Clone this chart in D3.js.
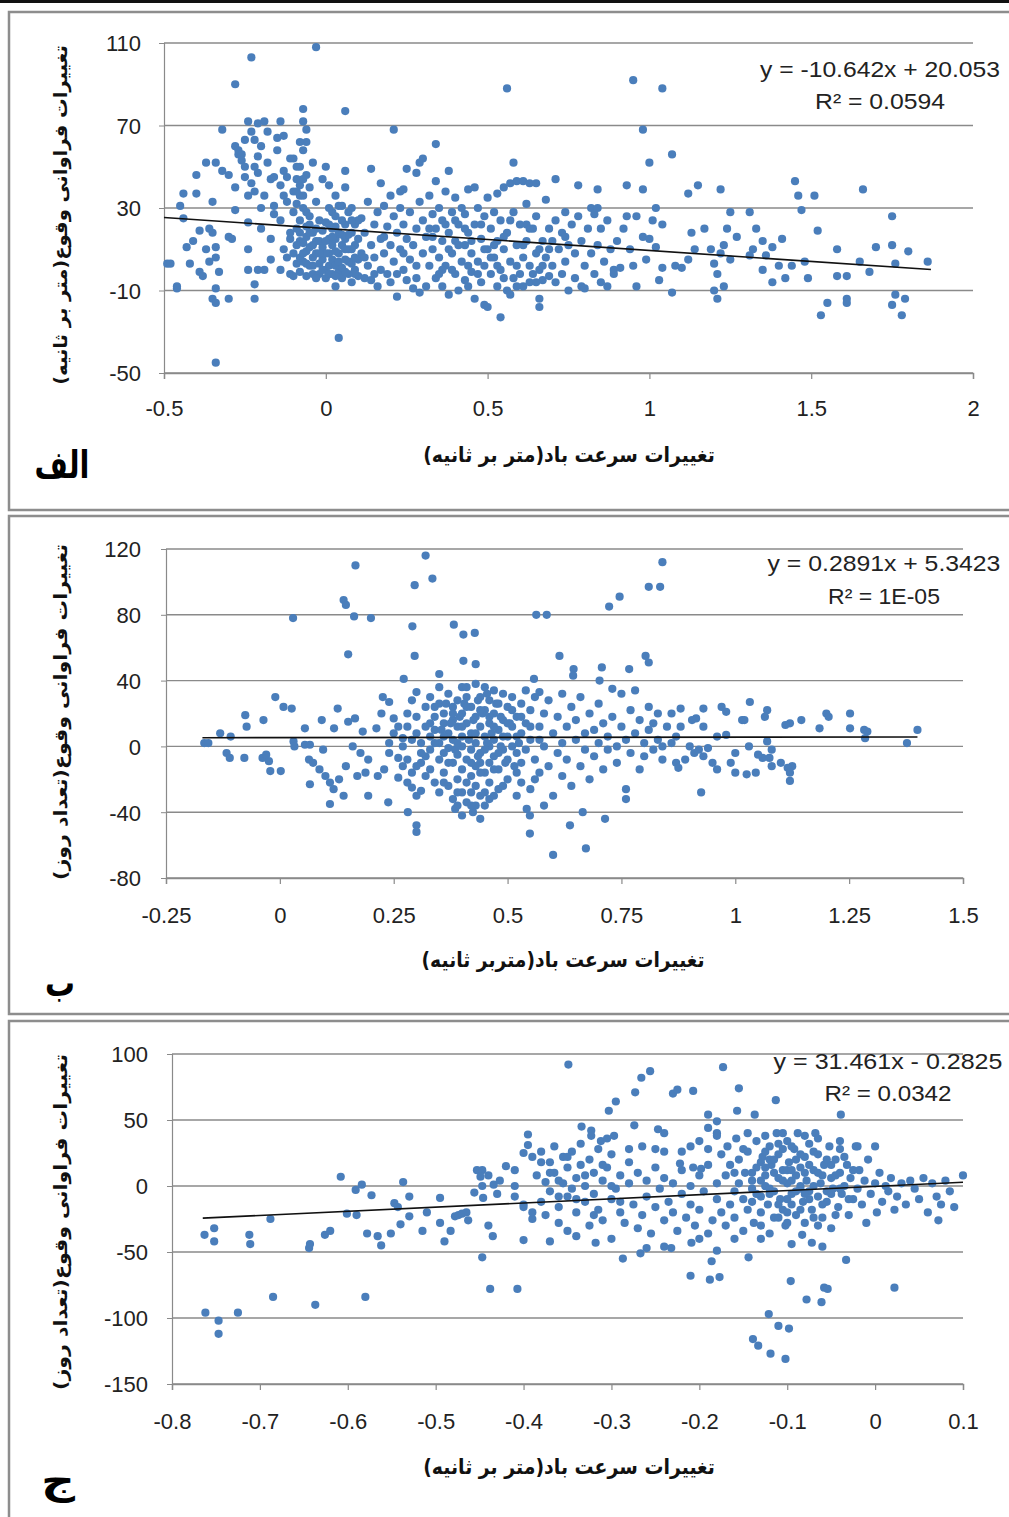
<!DOCTYPE html>
<html>
<head>
<meta charset="utf-8">
<script src="https://cdn.jsdelivr.net/npm/d3@7"></script>
<style>
  body { margin: 0; background: #fff; }
  svg { display: block; }
</style>
</head>
<body>
<div id="vis"></div>
<script>
// ---- data (x = wind speed change, y = frequency change) ----
const pointsA = [
  [-0.49,3],[-0.48,3],[-0.46,-8],[-0.46,-9],[-0.45,31],[-0.44,37],[-0.44,25],[-0.43,11],[-0.42,3],[-0.41,14],[-0.40,46],[-0.40,37],[-0.39,19],[-0.39,-1],[-0.38,-3],[-0.37,52],[-0.37,10],[-0.36,20],[-0.35,33],[-0.35,18],[-0.35,-14],[-0.34,52],[-0.34,11],[-0.34,6],[-0.34,-16],[-0.34,-9],[-0.34,-45],[-0.33,-1],[-0.36,4],
  [-0.32,48],[-0.32,68],[-0.30,-14],[-0.30,16],[-0.30,46],[-0.29,15],[-0.28,90],[-0.28,40],[-0.28,29],[-0.28,60],[-0.27,58],[-0.27,56],[-0.26,56],[-0.26,53],[-0.25,63],[-0.25,45],[-0.25,50],[-0.24,72],[-0.24,36],[-0.24,23],[-0.24,10],[-0.24,0],[-0.23,103],[-0.23,67],[-0.23,42],[-0.22,63],[-0.22,50],[-0.22,38],[-0.22,-14],[-0.22,-7],[-0.21,71],[-0.21,55],[-0.21,0],[-0.20,60],[-0.20,20],[-0.20,30],[-0.21,47],
  [-0.19,72],[-0.19,36],[-0.19,0],[-0.18,67],[-0.18,52],[-0.17,5],[-0.17,15],[-0.17,44],[-0.16,45],[-0.16,31],[-0.16,27],[-0.15,64],[-0.15,58],[-0.14,72],[-0.14,41],[-0.14,24],[-0.14,0],[-0.13,65],[-0.13,10],[-0.13,36],[-0.13,48],[-0.12,45],[-0.12,33],[-0.12,6],[-0.11,-2],[-0.11,15],[-0.11,18],[-0.11,54],[-0.10,54],[-0.10,38],[-0.10,28],[-0.10,8],[-0.10,-3],
  [-0.09,50],[-0.09,44],[-0.09,32],[-0.09,20],[-0.09,3],[-0.08,50],[-0.08,41],[-0.08,36],[-0.08,24],[-0.08,14],[-0.08,-1],[-0.07,72],[-0.07,78],[-0.07,44],[-0.07,36],[-0.07,30],[-0.07,13],[-0.07,4],[-0.06,68],[-0.06,62],[-0.06,28],[-0.06,21],[-0.06,16],[-0.06,9],[-0.06,-3],[-0.05,11],[-0.05,2],[-0.05,26],[-0.05,40],[-0.04,6],[-0.04,2],[-0.04,52],[-0.04,18],[-0.04,-2],[-0.03,108],[-0.03,33],[-0.03,14],[-0.03,8],[-0.02,-2],[-0.02,24],[-0.02,3],
  [-0.01,44],[-0.01,19],[-0.01,11],[-0.01,5],[0.00,50],[0.00,23],[0.00,0],[0.00,-4],[0.01,41],[0.01,15],[0.01,8],[0.01,2],[0.02,28],[0.02,12],[0.02,-2],[0.02,5],[0.03,36],[0.03,21],[0.03,2],[0.03,-8],[0.03,15],[0.04,31],[0.04,18],[0.04,8],[0.04,-1],[0.04,-33],[0.05,31],[0.05,12],[0.05,1],[0.05,-4],[0.06,48],[0.06,40],[0.06,77],[0.06,22],[0.06,15],[0.06,5],[0.07,28],[0.07,-2],[0.07,10],[0.08,18],[0.08,3],[0.08,-6],[0.08,30],[0.09,12],[0.09,0],[0.09,22],[0.10,5],[0.10,-3],[0.10,15],
  [0.11,8],[0.11,25],[0.12,-4],[0.12,18],[0.13,33],[0.13,2],[0.14,49],[0.14,12],[0.14,-5],[0.15,22],[0.15,6],[0.16,-8],[0.16,28],[0.17,42],[0.17,15],[0.17,0],[0.18,31],[0.18,8],[0.19,-2],[0.19,21],[0.20,36],[0.20,12],[0.20,-6],[0.21,68],[0.21,26],[0.21,4],[0.22,-13],[0.22,18],[0.22,-2],[0.23,38],[0.23,30],[0.23,10],[0.24,39],[0.24,0],[0.24,22],[0.25,49],[0.25,15],[0.25,-5],[0.26,5],[0.26,28],[0.27,-9],[0.27,12],[0.28,47],[0.28,20],[0.28,2],[0.29,52],[0.29,-11],[0.29,33],[0.30,54],[0.30,8],[0.30,24],
  [0.31,-8],[0.31,16],[0.32,36],[0.32,2],[0.33,27],[0.33,10],[0.34,61],[0.34,43],[0.34,-4],[0.34,20],[0.35,30],[0.35,6],[0.36,14],[0.36,-8],[0.36,24],[0.37,38],[0.37,2],[0.38,48],[0.38,18],[0.38,-12],[0.39,28],[0.39,8],[0.40,35],[0.40,-2],[0.40,14],[0.41,22],[0.41,-10],[0.42,30],[0.42,4],[0.43,12],[0.43,-5],[0.43,27],[0.44,18],[0.44,39],[0.45,-1],[0.45,8],[0.46,40],[0.46,22],[0.46,-14],[0.47,30],[0.47,4],[0.48,-6],[0.48,15],[0.49,-17],[0.49,26],[0.49,2],[0.50,-18],[0.50,10],[0.50,35],
  [0.51,20],[0.51,-2],[0.52,28],[0.52,6],[0.53,37],[0.53,-8],[0.53,14],[0.54,-23],[0.54,24],[0.54,0],[0.55,40],[0.55,10],[0.56,88],[0.56,-10],[0.56,18],[0.57,42],[0.57,4],[0.57,-12],[0.58,52],[0.58,28],[0.58,-4],[0.59,43],[0.59,12],[0.60,22],[0.60,-2],[0.61,43],[0.61,6],[0.61,-8],[0.62,32],[0.62,14],[0.63,2],[0.63,-6],[0.63,42],[0.64,20],[0.64,-2],[0.65,42],[0.65,8],[0.65,26],[0.66,-14],[0.66,-18],[0.66,0],[0.67,14],[0.67,-5],[0.68,34],[0.68,6],[0.69,-3],[0.69,20],[0.70,2],
  [0.71,44],[0.71,24],[0.71,-6],[0.72,10],[0.73,18],[0.73,-2],[0.74,28],[0.74,4],[0.75,-10],[0.75,12],[0.76,22],[0.77,-4],[0.77,8],[0.78,41],[0.78,26],[0.79,14],[0.79,-8],[0.80,-9],[0.80,2],[0.81,20],[0.82,30],[0.82,8],[0.83,27],[0.83,-2],[0.84,39],[0.84,30],[0.84,12],[0.85,-6],[0.85,20],[0.86,4],[0.87,24],[0.87,-8],[0.88,10],[0.89,0],[0.89,-2],[0.90,14],[0.91,1],[0.92,20],[0.93,41],[0.93,26],[0.94,10],[0.95,92],[0.95,2],[0.96,-8],[0.96,26],
  [0.98,68],[0.98,39],[0.98,16],[0.99,5],[1.00,52],[1.00,15],[1.01,24],[1.02,30],[1.02,11],[1.03,-5],[1.04,88],[1.04,22],[1.04,1],[1.07,56],[1.07,-11],[1.08,2],[1.10,1],[1.12,37],[1.12,5],[1.13,18],[1.14,10],[1.15,41],[1.17,20],[1.19,10],[1.20,3],[1.20,-10],[1.21,-14],[1.21,-2],[1.22,39],[1.22,8],[1.23,12],[1.23,-8],[1.24,20],[1.25,28],[1.25,5],[1.27,16],[1.31,28],[1.31,7],[1.32,10],[1.33,20],[1.35,14],[1.35,0],[1.36,7],[1.38,11],[1.38,-6],[1.40,2],[1.41,15],[1.42,-4],[1.44,2],[1.45,43],[1.46,36],[1.47,29],[1.48,4],[1.49,-4],[1.51,36],[1.52,19],[1.53,-22],[1.55,-16],[1.58,10],[1.58,-3],[1.61,-3],[1.61,-14],[1.61,-16],[1.65,4],[1.66,39],[1.68,-1],[1.70,11],[1.75,26],[1.75,12],[1.75,-17],[1.76,-12],[1.76,3],[1.78,-22],[1.79,-14],[1.80,9],[1.86,4],
  [-0.09,12],[-0.08,6],[-0.05,18],[-0.03,-4],[-0.02,14],[0.00,8],[0.01,30],[0.02,20],[0.03,9],[0.05,24],[0.06,-1],[0.07,17],[0.08,10],[0.09,-2],[0.10,24],[0.12,6],[0.15,-2],[0.18,16],[0.24,8],[0.32,20],[0.36,0],[0.40,24],[0.44,2],[0.52,12],[0.55,-4],[0.59,2],[0.62,22],[0.66,10],[0.70,14],[0.74,16],[0.44,-8],[0.48,22],[0.38,10],[0.28,-4],
  [-0.08,18],[-0.07,8],[-0.06,3],[-0.05,22],[-0.04,12],[-0.03,20],[-0.02,8],[-0.01,0],[0.00,14],[0.01,-2],[0.02,16],[0.03,26],[0.04,4],[0.05,17],[0.06,10],[0.07,4],[0.08,24],[0.09,6],[0.03,-3],[0.01,22],[0.33,16],[0.35,-2],[0.37,22],[0.39,0],[0.41,12],[0.43,20],[0.45,14],[0.47,-2],[0.49,10],[0.51,6],[0.53,2],[0.55,16],[0.57,24],[0.59,-8],[0.61,12],[0.63,20],[0.65,-6],[0.67,2],[0.69,10],[-0.07,58],[-0.08,62],[-0.09,38],[-0.06,46]
];

const pointsB = [
  [0.32,116],[0.166,110],[0.84,112],[0.335,102],[0.296,98],[0.81,97],[0.835,97],[0.746,91],[0.723,85],[0.14,89],[0.145,86],[0.029,78],[0.163,79],[0.20,78],[0.563,80],[0.586,80],[0.291,73],[0.382,74],[0.403,68],[0.428,69],[0.15,56],[0.296,55],[0.614,55],[0.803,55],[0.81,51],[0.403,52],[0.43,50],[0.707,48],[0.645,47],[0.644,43],[0.767,47],[0.35,44],[0.272,41],[0.558,41],[0.702,40],[-0.01,30],[0.008,24],[0.026,23],
  [0.60,-66],[0.672,-62],[0.549,-53],[0.30,-48],[0.30,-52],[0.637,-48],[0.714,-44],[0.281,-40],[0.549,-42],[0.542,-38],[0.665,-40],[0.11,-35],[0.066,-23],[0.424,-40],[0.385,-38],[0.238,-34],[0.925,-28],[1.12,-21],[0.76,-32],
  [1.40,10],[1.377,2],[1.283,10],[1.285,5],[1.29,9],[1.252,20],[1.252,11],[1.20,20],[1.205,18],[1.185,11],[1.145,16],[1.12,14],[1.125,-12],[1.11,13],[1.07,22],[1.065,18],[1.032,27],[1.015,16],[1.02,16],[0.97,24],[0.98,21],[0.93,23],[0.914,17],[0.905,16],[0.88,23],[0.88,12],[0.93,12],[0.98,7],[0.96,6],[1.03,0],[1.07,3],[1.06,-7],[1.075,-7],[1.08,-12],[1.10,-10],[1.115,-13],[1.12,-16],[1.045,-16],[1.025,-17],[1.00,-16],[0.99,-10],[0.96,-14],[0.95,-10],[0.93,-6],[0.91,-4],[0.89,-8],[0.87,-10],[0.875,-13],[0.90,0],[0.94,-1],[0.92,-2],[1.00,-4],[1.05,-5],[1.08,-2],
  [-0.166,2],[-0.157,2],[-0.131,8],[-0.108,6],[-0.117,-4],[-0.11,-7],[-0.078,-7],[-0.076,19],[-0.073,12],[-0.036,16],[-0.038,-7],[-0.024,-9],[-0.03,-5],[-0.021,-15],[0.002,-15],[0.03,3],[0.032,0],[0.055,11],[0.055,1],[0.066,1],[0.064,-8],[0.073,-10],[0.092,16],[0.095,-2],[0.119,11],[0.127,23],[0.087,-14],[0.10,-18],[0.11,-22],[0.118,-26],[0.14,-30],[0.13,-20],[0.145,-12],[0.15,15],[0.165,17],[0.182,9],[0.16,0],[0.177,-4],[0.194,-8],[0.188,-16],[0.17,-18],[0.194,-30],[0.215,-18],[0.229,-14],[0.212,11],[0.223,20],[0.226,30],
  [0.24,27],[0.25,17],[0.25,8],[0.24,2],[0.24,-4],[0.26,-7],[0.27,-12],[0.26,-19],[0.28,-22],[0.29,-25],[0.30,-30],[0.31,-27],[0.29,-16],[0.28,-8],[0.27,0],[0.27,5],[0.28,12],[0.28,20],[0.29,28],[0.30,33],[0.30,18],[0.30,8],[0.31,2],[0.31,-4],[0.31,-10],[0.32,-18],[0.32,24],[0.32,12],[0.33,30],[0.33,6],[0.33,-2],[0.33,-14],[0.34,-22],[0.34,18],[0.34,10],[0.35,36],[0.35,26],[0.35,2],[0.35,-8],[0.35,-28],[0.36,14],[0.36,20],[0.36,-4],[0.36,-16],[0.37,32],[0.37,8],[0.37,-1],[0.37,-24],[0.38,24],[0.38,16],[0.38,4],[0.38,-10],[0.38,-32],[0.39,28],[0.39,12],[0.39,-5],[0.39,-20],[0.40,36],[0.40,20],[0.40,6],[0.40,0],[0.40,-14],[0.40,-28],[0.41,30],[0.41,14],[0.41,-8],[0.41,-34],[0.42,24],[0.42,8],[0.42,-2],[0.42,-18],[0.43,38],[0.43,18],[0.43,2],[0.43,-12],[0.43,-24],[0.44,30],[0.44,12],[0.44,-4],[0.44,-30],[0.45,36],[0.45,22],[0.45,6],[0.45,-16],[0.46,28],[0.46,14],[0.46,0],[0.46,-10],[0.46,-22],[0.47,34],[0.47,20],[0.47,4],[0.47,-6],[0.48,26],[0.48,10],[0.48,-14],[0.48,-26],[0.49,32],[0.49,16],[0.49,-2],[0.50,24],[0.50,6],[0.50,-8],[0.50,-20],[0.51,30],[0.51,12],[0.51,0],[0.52,18],[0.52,-4],[0.52,-16],[0.53,26],[0.53,8],[0.53,-10],[0.54,34],[0.54,14],[0.54,-2],[0.55,22],[0.55,4],[0.55,-26],[0.56,30],[0.56,-8],[0.56,-20],[0.57,12],[0.57,33],[0.58,0],[0.58,20],
  [0.59,-12],[0.59,28],[0.60,8],[0.60,-30],[0.61,18],[0.61,-4],[0.62,32],[0.62,2],[0.62,-18],[0.63,12],[0.63,-8],[0.64,24],[0.64,-24],[0.65,4],[0.65,16],[0.66,-12],[0.66,30],[0.67,8],[0.67,-2],[0.68,20],[0.68,-20],[0.69,10],[0.69,-6],[0.70,26],[0.70,2],[0.71,-14],[0.71,14],[0.72,6],[0.72,-2],[0.73,35],[0.73,18],[0.74,0],[0.74,-10],[0.75,32],[0.75,12],[0.76,4],[0.76,-26],[0.77,22],[0.77,-4],[0.78,8],[0.78,34],[0.79,-14],[0.79,16],[0.80,2],[0.80,-6],[0.81,24],[0.81,10],[0.82,-2],[0.82,14],[0.83,20],[0.83,4],[0.84,-8],[0.84,0],[0.85,12],[0.86,2],[0.86,20],[0.87,6],
  [0.355,10],[0.365,26],[0.375,14],[0.385,-2],[0.395,18],[0.405,26],[0.415,4],[0.425,16],[0.435,-6],[0.435,28],[0.445,20],[0.455,2],[0.455,32],[0.465,8],[0.475,26],[0.485,0],[0.485,18],[0.495,-10],[0.505,14],[0.515,-12],[0.525,2],[0.44,-16],[0.42,-28],[0.45,-36],[0.39,-36],[0.47,-30],[0.36,-22],[0.34,2],[0.32,-6],[0.30,-12],[0.29,4],[0.26,12],[0.41,-22],[0.43,-36],[0.40,-42],[0.44,-44],[0.52,-30],[0.53,-22],[0.57,-16],[0.58,-36],
  [0.38,20],[0.39,2],[0.40,12],[0.41,24],[0.42,-10],[0.43,8],[0.44,22],[0.45,-2],[0.46,18],[0.47,12],[0.48,-4],[0.49,6],[0.50,14],[0.51,22],[0.52,6],[0.37,-10],[0.36,6],[0.34,24],[0.33,14],[0.41,36],[0.44,-10],[0.47,-14],[0.49,-24],[0.53,18],[0.55,12],[0.57,4],[0.42,-36],[0.45,-28],[0.39,-28],[0.46,-32]
];

const pointsC = [
  [-0.349,92],[-0.173,90],[-0.256,87],[-0.266,82],[-0.273,71],[-0.295,64],[-0.303,57],[-0.23,70],[-0.225,73],[-0.207,72],[-0.155,74],[-0.157,57],[-0.137,54],[-0.113,65],[-0.039,54],[-0.19,54],[-0.18,49],[-0.19,44],[-0.18,40],[-0.18,38],[-0.274,46],[-0.247,43],[-0.24,40],[-0.334,45],[-0.323,42],[-0.323,38],[-0.297,38],[-0.312,34],[-0.305,36],[-0.395,39],[-0.25,28],[-0.222,17],[-0.207,14],[-0.198,13],
  [-0.102,-131],[-0.119,-127],[-0.133,-121],[-0.139,-116],[-0.11,-106],[-0.098,-108],[-0.121,-97],[-0.078,-86],[-0.061,-88],[-0.058,-77],[-0.054,-78],[-0.096,-72],[0.022,-77],[-0.033,-56],[-0.21,-68],[-0.188,-71],[-0.177,-69],[-0.186,-57],[-0.18,-49],[-0.144,-54],[-0.072,-43],[-0.083,-37],[-0.26,-47],[-0.267,-51],[-0.287,-55],[-0.438,-78],[-0.407,-78],[-0.447,-54],[-0.435,-38],[-0.44,-30],[-0.40,-41],[-0.318,-43],[-0.232,-47],[-0.209,-43],
  [-0.762,-96],[-0.747,-102],[-0.747,-112],[-0.725,-96],[-0.763,-37],[-0.752,-32],[-0.752,-42],[-0.712,-37],[-0.711,-44],[-0.688,-25],[-0.685,-84],[-0.644,-47],[-0.643,-44],[-0.637,-90],[-0.626,-37],[-0.62,-34],[-0.608,7],[-0.601,-21],[-0.59,-22],[-0.591,-3],[-0.584,1],[-0.573,-7],[-0.58,-84],[-0.578,-36],[-0.566,-38],[-0.562,-45],[-0.551,-36],[-0.547,-13],[-0.543,-16],[-0.537,3],[-0.53,-8],[-0.53,-23],[-0.54,-29],[-0.515,-34],[-0.51,-20],[-0.495,-9],[-0.495,-28],[-0.49,-42],[-0.483,-34],[-0.478,-23],[-0.474,-22],[-0.47,-21],[-0.465,-20],[-0.463,-26],[-0.456,-5],[-0.453,12],[-0.447,12],[-0.449,7],[-0.44,8],[-0.447,0],[-0.446,-9],[-0.434,1],[-0.43,-6],[-0.427,4],[-0.42,15],
  [-0.41,12],[-0.41,0],[-0.41,-8],[-0.40,-14],[-0.40,-16],[-0.40,25],[-0.395,31],[-0.39,-25],[-0.39,-20],[-0.39,22],[-0.385,8],[-0.38,-12],[-0.38,26],[-0.375,3],[-0.375,-22],[-0.37,18],[-0.37,-4],[-0.365,30],[-0.365,10],[-0.36,-16],[-0.36,-28],[-0.355,22],[-0.355,2],[-0.35,14],[-0.35,-8],[-0.345,26],[-0.345,-2],[-0.34,6],[-0.34,-20],[-0.335,32],[-0.335,16],[-0.33,0],[-0.33,-12],[-0.325,20],[-0.325,-30],[-0.32,10],[-0.32,-6],[-0.315,28],[-0.315,-18],[-0.31,4],[-0.31,-26],[-0.305,14],[-0.30,-10],[-0.30,24],[-0.295,-2],[-0.29,8],[-0.29,-20],[-0.285,-28],[-0.28,18],[-0.28,2],[-0.275,-14],[-0.27,10],[-0.27,-32],[-0.265,-22],[-0.26,4],[-0.26,-8],[-0.255,-36],[-0.25,14],[-0.25,-16],[-0.245,-2],[-0.24,-26],[-0.24,6],[-0.235,-12],[-0.23,-20],[-0.23,2],[-0.225,-34],[-0.22,-6],[-0.22,12],[-0.215,-24],[-0.21,-14],[-0.21,0],[-0.205,-30],[-0.20,8],[-0.20,-18],[-0.195,-4],[-0.19,-36],[-0.19,16],[-0.185,-26],[-0.18,2],[-0.18,-10],[-0.175,24],[-0.175,-20],
  [-0.28,28],[-0.265,30],[-0.24,26],[-0.22,26],[-0.21,30],[-0.20,34],[-0.19,28],[-0.24,-46],[-0.20,-40],[-0.16,-40],[-0.13,-40],[-0.095,-44],[-0.06,-46],[-0.34,-38],[-0.30,-40],[-0.37,-42],[-0.35,-34],
  [-0.17,8],[-0.17,-30],[-0.168,30],[-0.165,-14],[-0.165,16],[-0.16,-4],[-0.16,-24],[-0.158,36],[-0.155,2],[-0.155,20],[-0.15,-10],[-0.15,-34],[-0.148,10],[-0.145,26],[-0.145,-18],[-0.14,-2],[-0.14,4],[-0.138,-28],[-0.135,14],[-0.135,34],[-0.13,-8],[-0.13,-20],[-0.128,22],[-0.125,0],[-0.125,8],[-0.122,-14],[-0.12,30],[-0.12,-36],[-0.118,16],[-0.115,-4],[-0.115,-24],[-0.112,40],[-0.11,6],[-0.11,24],[-0.108,-10],[-0.105,12],[-0.105,-18],[-0.102,-30],[-0.10,2],[-0.10,34],[-0.098,18],[-0.095,-6],[-0.095,-14],[-0.092,28],[-0.09,8],[-0.09,-22],[-0.088,40],[-0.085,0],[-0.085,14],[-0.082,-12],[-0.08,22],[-0.08,-28],[-0.078,4],[-0.075,32],[-0.075,-4],[-0.072,-18],[-0.07,12],[-0.068,40],[-0.065,-8],[-0.065,24],[-0.062,2],[-0.06,-24],[-0.058,16],[-0.055,-12],[-0.052,30],[-0.05,6],[-0.05,-32],[-0.048,-2],[-0.045,20],[-0.042,-16],[-0.04,10],[-0.04,28],[-0.038,-6],[-0.035,0],[-0.032,16],[-0.03,-22],[-0.028,6],[-0.025,-10],[-0.022,30],[-0.02,-2],[-0.018,12],[-0.015,-14],[-0.012,4],[-0.01,-28],[-0.008,20],[-0.005,-6],[0.0,2],[0.002,-20],[0.005,10],[0.008,-12],[0.012,0],[0.015,-4],[0.018,6],[0.022,-18],[0.025,-8],[0.03,2],[0.035,-14],[0.04,4],[0.045,-2],[0.05,-10],[0.055,6],[0.06,-20],[0.065,2],[0.07,-8],[0.072,-26],[0.075,-14],[0.08,4],[0.085,-4],[0.09,-16],[0.10,8],
  [-0.145,40],[-0.125,38],[-0.105,40],[-0.08,38],[-0.065,36],[-0.04,34],[-0.02,30],[0.0,30],
  [-0.16,10],[-0.15,28],[-0.14,-12],[-0.13,18],[-0.12,-6],[-0.115,10],[-0.11,-24],[-0.105,28],[-0.10,-10],[-0.095,4],[-0.09,20],[-0.085,-18],[-0.08,10],[-0.075,-10],[-0.07,26],[-0.065,-30],[-0.06,8],[-0.055,-4],[-0.05,16],[-0.045,-22],[-0.04,-2],[-0.035,22],[-0.03,-10],[-0.025,12],[-0.13,4],[-0.12,20],[-0.10,12],[-0.085,-2],
  [-0.37,10],[-0.36,4],[-0.35,22],[-0.34,-10],[-0.33,8],[-0.32,-22],[-0.31,16],[-0.30,0],[-0.29,-12],[-0.38,18],[-0.36,-8],
  [-0.14,10],[-0.135,-6],[-0.125,14],[-0.12,-2],[-0.115,20],[-0.11,-14],[-0.105,4],[-0.10,-20],[-0.095,12],[-0.09,-4],[-0.085,24],[-0.08,-6],[-0.075,16],[-0.07,0],[-0.065,10],[-0.06,-14],[-0.055,20],[-0.05,-6],[-0.045,8],[-0.125,26],[-0.11,32],[-0.095,30],[-0.13,-30],[-0.10,-28],[-0.07,-24]
];

// axis ticks
const xTicksA = [-0.5, 0, 0.5, 1, 1.5, 2];
const yTicksA = [-50, -10, 30, 70, 110];
const xTicksB = [-0.25, 0, 0.25, 0.5, 0.75, 1, 1.25, 1.5];
const yTicksB = [-80, -40, 0, 40, 80, 120];
const xTicksC = [-0.8, -0.7, -0.6, -0.5, -0.4, -0.3, -0.2, -0.1, 0, 0.1];
const yTicksC = [-150, -100, -50, 0, 50, 100];

// trend lines: [slope, intercept] and x span
const trendA = [-10.642, 20.053], trendSpanA = [-0.5, 1.87];
const trendB = [0.2891, 5.3423], trendSpanB = [-0.17, 1.40];
const trendC = [31.461, -0.2825], trendSpanC = [-0.765, 0.1];

// texts
const eqA = ["y = -10.642x + 20.053", "R² = 0.0594"];
const eqB = ["y = 0.2891x + 5.3423", "R² = 1E-05"];
const eqC = ["y = 31.461x - 0.2825", "R² = 0.0342"];
const xTitles = ["تغییرات سرعت باد(متر بر ثانیه)", "تغییرات سرعت باد(متربر ثانیه)", "تغییرات سرعت باد(متر بر ثانیه)"];
const yTitles = ["تغییرات فراوانی وقوع(متر بر ثانیه)", "تغییرات فراوانی وقوع(تعداد روز)", "تغییرات فراوانی وقوع(تعداد روز)"];
const tags = ["الف", "ب", "ج"];

// ---- layout ----
const W = 1009, H = 1517;
const NUM_FONT = "'Liberation Sans', Arial, sans-serif";
const FA_FONT = "'DejaVu Sans', sans-serif";
const DOT = "#4a7ebb";
const GRID = "#8a8a8a";

const panels = [
  { pts: pointsA, xt: xTicksA, yt: yTicksA, tr: trendA, ts: trendSpanA, eq: eqA,
    frame: [9, 12, 1012, 498], plot: { l: 164, r: 973, t: 43, b: 373 },
    xDom: [-0.5, 2], yDom: [-50, 110], yLabX: 141, xLabY: 416,
    eqX: 880, eqY: [77, 109], eqW: [240, 130],
    xt2: { cx: 569, y: 462, w: 292 }, yt2: { x: 60, cy: 215, len: 340 }, tag: { x: 62, y: 478, w: 55 } },
  { pts: pointsB, xt: xTicksB, yt: yTicksB, tr: trendB, ts: trendSpanB, eq: eqB,
    frame: [9, 516, 1012, 498], plot: { l: 166, r: 963, t: 549, b: 878 },
    xDom: [-0.25, 1.5], yDom: [-80, 120], yLabX: 141, xLabY: 923,
    eqX: 884, eqY: [571, 604], eqW: [233, 112],
    xt2: { cx: 563, y: 967, w: 283 }, yt2: { x: 60, cy: 712, len: 336 }, tag: { x: 60, y: 996, w: 30 } },
  { pts: pointsC, xt: xTicksC, yt: yTicksC, tr: trendC, ts: trendSpanC, eq: eqC,
    frame: [9, 1021, 1012, 520], plot: { l: 172, r: 963, t: 1054, b: 1384 },
    xDom: [-0.8, 0.1], yDom: [-150, 100], yLabX: 148, xLabY: 1429,
    eqX: 888, eqY: [1069, 1101], eqW: [229, 127],
    xt2: { cx: 569, y: 1474, w: 292 }, yt2: { x: 60, cy: 1222, len: 336 }, tag: { x: 58, y: 1494, w: 34 } }
];

const svg = d3.select("#vis").append("svg")
  .attr("width", W).attr("height", H)
  .style("background", "#fff");

// thin black rule at the very top
svg.append("rect").attr("x", 0).attr("y", 0).attr("width", W).attr("height", 3).attr("fill", "#111");

// squeeze/stretch a text node horizontally to a target width
function fitX(sel, target) {
  const len = sel.node().getComputedTextLength();
  return len > 0 ? target / len : 1;
}

panels.forEach((p, i) => {
  const g = svg.append("g");

  // frame
  g.append("rect")
    .attr("x", p.frame[0]).attr("y", p.frame[1])
    .attr("width", p.frame[2]).attr("height", p.frame[3])
    .attr("fill", "#fff").attr("stroke", "#8d8d8d").attr("stroke-width", 2.5);

  const x = d3.scaleLinear().domain(p.xDom).range([p.plot.l, p.plot.r]);
  const y = d3.scaleLinear().domain(p.yDom).range([p.plot.b, p.plot.t]);

  // horizontal gridlines
  g.append("g")
    .selectAll("line")
    .data(p.yt)
    .join("line")
    .attr("x1", p.plot.l).attr("x2", p.plot.r)
    .attr("y1", d => y(d)).attr("y2", d => y(d))
    .attr("stroke", GRID).attr("stroke-width", 1.4);

  // y axis
  const yAxis = g.append("g")
    .attr("transform", `translate(${p.plot.l},0)`)
    .call(d3.axisLeft(y).tickValues(p.yt).tickSize(5).tickFormat(d => String(d)));
  yAxis.select(".domain").attr("stroke", GRID).attr("stroke-width", 1.2);
  yAxis.selectAll(".tick line").attr("stroke", GRID);
  yAxis.selectAll(".tick text")
    .attr("x", p.yLabX - p.plot.l).attr("dy", "0.36em")
    .style("font", `22px ${NUM_FONT}`).attr("fill", "#222");

  // x axis
  const xAxis = g.append("g")
    .attr("transform", `translate(0,${p.plot.b})`)
    .call(d3.axisBottom(x).tickValues(p.xt).tickSize(6).tickFormat(d => String(d)));
  xAxis.select(".domain").attr("stroke", GRID).attr("stroke-width", 1.4);
  xAxis.selectAll(".tick line").attr("stroke", GRID).attr("stroke-width", 1.2);
  xAxis.selectAll(".tick text")
    .attr("y", p.xLabY - p.plot.b).attr("dy", 0)
    .style("font", `22px ${NUM_FONT}`).attr("fill", "#222");

  // points
  g.append("g")
    .selectAll("circle")
    .data(p.pts)
    .join("circle")
    .attr("cx", d => x(d[0]))
    .attr("cy", d => y(d[1]))
    .attr("r", 4.1)
    .attr("fill", DOT);

  // linear trend line
  const [m, c] = p.tr;
  g.append("line")
    .attr("x1", x(p.ts[0])).attr("y1", y(m * p.ts[0] + c))
    .attr("x2", x(p.ts[1])).attr("y2", y(m * p.ts[1] + c))
    .attr("stroke", "#111").attr("stroke-width", 1.6);

  // equation + R²
  p.eq.forEach((t, k) => {
    const tx = g.append("text")
      .attr("text-anchor", "middle")
      .style("font", `22px ${NUM_FONT}`).attr("fill", "#222")
      .text(t);
    const s = fitX(tx, p.eqW[k]);
    tx.attr("transform", `translate(${p.eqX},${p.eqY[k]}) scale(${s},1)`);
  });

  // x axis title (Persian, bold)
  const xtt = g.append("text")
    .attr("text-anchor", "middle").attr("direction", "rtl")
    .style("font", `bold 21px ${FA_FONT}`).attr("fill", "#111")
    .text(xTitles[i]);
  xtt.attr("transform", `translate(${p.xt2.cx},${p.xt2.y}) scale(${fitX(xtt, p.xt2.w)},1)`);

  // y axis title
  const ytt = g.append("text")
    .attr("text-anchor", "middle").attr("direction", "rtl")
    .style("font", `bold 18px ${FA_FONT}`).attr("fill", "#111")
    .text(yTitles[i]);
  ytt.attr("transform", `translate(${p.yt2.x + 7},${p.yt2.cy}) rotate(-90) scale(${fitX(ytt, p.yt2.len)},1)`);

  // panel tag
  const tg = g.append("text")
    .attr("text-anchor", "middle").attr("direction", "rtl")
    .style("font", `bold 38px ${FA_FONT}`).attr("fill", "#000")
    .text(tags[i]);
  tg.attr("transform", `translate(${p.tag.x},${p.tag.y}) scale(${fitX(tg, p.tag.w)},1)`);
});
</script>
</body>
</html>
